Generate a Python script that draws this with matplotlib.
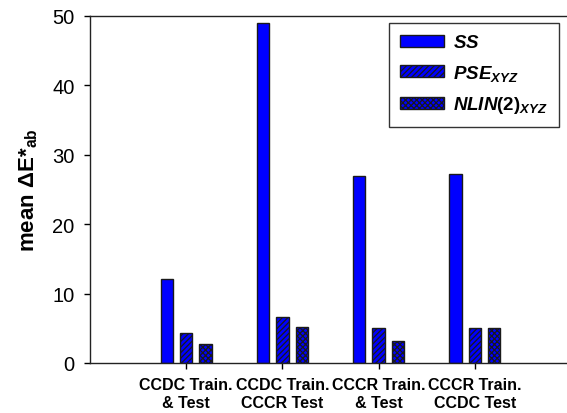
import matplotlib
matplotlib.use("Agg")
import matplotlib.pyplot as plt
import numpy as np

plt.rcParams['font.family'] = ['Liberation Sans', 'DejaVu Sans']
plt.rcParams['mathtext.fontset'] = 'custom'
plt.rcParams['mathtext.rm'] = 'Liberation Sans:bold'
plt.rcParams['mathtext.it'] = 'Liberation Sans:bold:italic'
plt.rcParams['mathtext.bf'] = 'Liberation Sans:bold'
plt.rcParams['hatch.linewidth'] = 0.9
plt.rcParams['hatch.color'] = 'black'

categories = ["CCDC Train.\n& Test", "CCDC Train.\nCCCR Test",
              "CCCR Train.\n& Test", "CCCR Train.\nCCDC Test"]
series_names = [r'$\mathit{SS}$', r'$\mathit{PSE}_{\mathit{XYZ}}$',
                r'$\mathit{NLIN(2)}_{\mathit{XYZ}}$']
ss = [12.1, 49.0, 27.0, 27.2]
pse = [4.3, 6.6, 5.0, 5.1]
nlin = [2.7, 5.2, 3.2, 5.1]
yticks = [0, 10, 20, 30, 40, 50]

fig = plt.figure(figsize=(5.67, 4.14), dpi=100)
ax = fig.add_axes([90/567, 1-364/414, 481/567, 347/414])

x = np.arange(len(categories))
w = 0.127
off = 0.2
hatches = ['', '//////', 'xxxxxx']
for i, (vals, h, name) in enumerate(zip([ss, pse, nlin], hatches, series_names)):
    ax.bar(x + (i - 1) * off, vals, width=w, color='#0000ff', edgecolor='#1a1a1a',
           linewidth=1.0, hatch=h, label=name, zorder=2)

ax.set_xlim(-1, 4)
ax.set_ylim(0, 50)
ax.set_yticks(yticks)
ax.set_yticklabels([str(t) for t in yticks], fontsize=14.5)
ax.set_xticks(x)
ax.set_xticklabels(categories, fontsize=11.5, fontweight='bold', linespacing=1.25)
ax.tick_params(axis='y', direction='out', length=4, width=1, pad=7)
ax.tick_params(axis='x', direction='out', length=4, width=1, pad=6)
for s in ['left', 'bottom', 'top']:
    ax.spines[s].set_linewidth(1.0)
    ax.spines[s].set_color('#222222')
ax.spines['right'].set_visible(False)

ax.set_ylabel('mean \u0394E*$_{\\mathrm{ab}}$', fontsize=16, fontweight='bold', labelpad=9)

leg = ax.legend(loc='upper right', bbox_to_anchor=(559/567, 1-24/414),
                bbox_transform=fig.transFigure, fontsize=13.5, frameon=True,
                fancybox=False, edgecolor='black', handlelength=2.3,
                handleheight=0.6, labelspacing=0.62, borderpad=0.6,
                handletextpad=0.5, borderaxespad=0)
leg.get_frame().set_linewidth(1.0)

fig.savefig('out.png', dpi=100)
